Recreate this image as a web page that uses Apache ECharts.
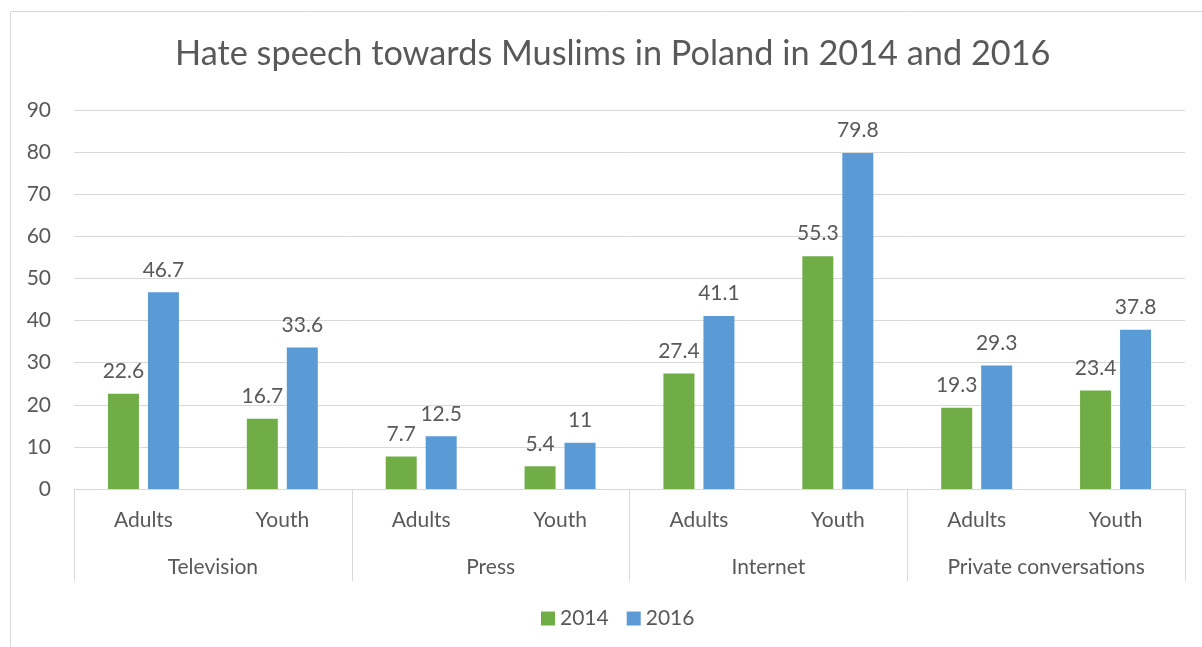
<!DOCTYPE html>
<html><head><meta charset="utf-8">
<script src="https://cdn.jsdelivr.net/npm/echarts@6/dist/echarts.min.js"></script>
<style>html,body{margin:0;padding:0;background:#fff}#c{width:1202px;height:647px}</style>
</head><body><div id="c"></div>
<script>
const title = 'Hate speech towards Muslims in Poland in 2014 and 2016';
const subCategories = ['Adults','Youth','Adults','Youth','Adults','Youth','Adults','Youth'];
const groups = ['Television','Press','Internet','Private conversations'];
const values2014 = [22.6, 16.7, 7.7, 5.4, 27.4, 55.3, 19.3, 23.4];
const values2016 = [46.7, 33.6, 12.5, 11, 41.1, 79.8, 29.3, 37.8];
const yTicks = {min: 0, max: 90, interval: 10};

const FONT = 'Lato';
const TXT = '#595959';
const FS = 21;
const chart = echarts.init(document.getElementById('c'), null, {renderer: 'canvas'});
const lbl = {show: true, position: 'top', distance: 12, color: TXT, fontFamily: FONT, fontSize: FS};
chart.setOption({
  animation: false,
  backgroundColor: '#fff',
  graphic: [{type: 'rect', shape: {x: 10.5, y: 11.5, width: 1200, height: 660}, style: {fill: 'none', stroke: '#d9d9d9', lineWidth: 1}, silent: true}],
  title: {text: title, left: 170, top: 32, textStyle: {fontFamily: FONT, fontSize: 34.3, fontWeight: 'normal', color: TXT}},
  legend: {bottom: 13, left: 536, itemWidth: 14, itemHeight: 14, itemGap: 18, icon: 'rect',
    textStyle: {fontFamily: FONT, fontSize: FS, color: TXT}, data: ['2014','2016']},
  grid: {left: 74, right: 17, top: 110, bottom: 158, containLabel: false},
  xAxis: [
    {type: 'category', data: subCategories, axisLine: {lineStyle: {color: '#d9d9d9'}}, axisTick: {show: false},
      axisLabel: {color: TXT, fontFamily: FONT, fontSize: FS, margin: 21}},
    {type: 'category', data: groups, position: 'bottom', axisLine: {show: false},
      axisTick: {show: true, length: 92, lineStyle: {color: '#d9d9d9'}},
      axisLabel: {color: TXT, fontFamily: FONT, fontSize: FS, margin: 68}}
  ],
  yAxis: {type: 'value', min: yTicks.min, max: yTicks.max, interval: yTicks.interval,
    axisLine: {show: false}, axisTick: {show: false},
    splitLine: {lineStyle: {color: '#d9d9d9'}},
    axisLabel: {color: TXT, fontFamily: FONT, fontSize: FS, margin: 23}},
  series: [
    {name: '2014', type: 'bar', data: values2014, barWidth: 31, barGap: '29%', itemStyle: {color: '#70ad47'}, label: lbl},
    {name: '2016', type: 'bar', data: values2016, barWidth: 31, barGap: '29%', itemStyle: {color: '#5b9bd5'}, label: lbl}
  ]
});
</script></body></html>
